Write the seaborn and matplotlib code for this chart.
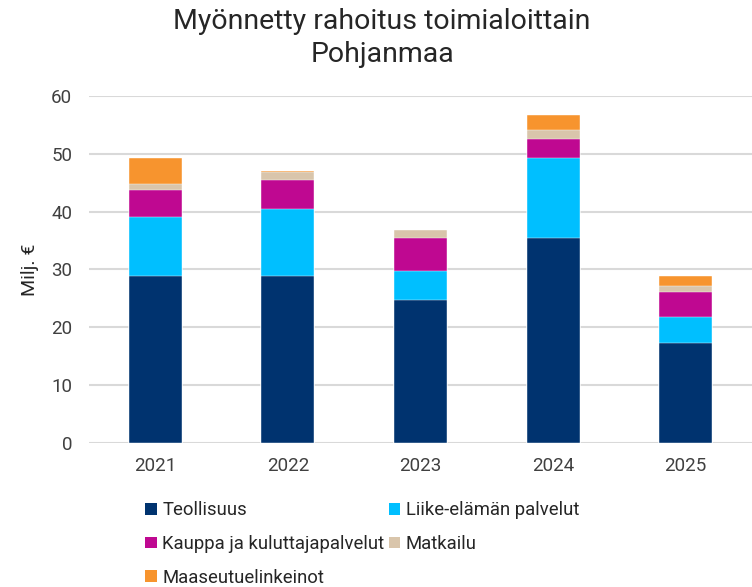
import numpy as np
import pandas as pd
import matplotlib
matplotlib.use("Agg")
import matplotlib.pyplot as plt
from matplotlib.patches import Patch
import seaborn as sns

# Data (milj. euroa)
years = ["2021", "2022", "2023", "2024", "2025"]
teollisuus = [28.9, 28.9, 24.7, 35.4, 17.3]
liike = [10.2, 11.55, 5.0, 13.8, 4.55]
kauppa = [4.65, 5.0, 5.75, 3.4, 4.3]
matkailu = [1.05, 1.35, 1.45, 1.4, 1.05]
maaseutu = [4.45, 0.2, 0.0, 2.75, 1.75]

series_names = ["Teollisuus", "Liike-elämän palvelut", "Kauppa ja kuluttajapalvelut",
                "Matkailu", "Maaseutuelinkeinot"]
colors = ["#00336F", "#00BFFF", "#BF0891", "#D9C5AB", "#F7942E"]

df = pd.DataFrame({"Vuosi": years, series_names[0]: teollisuus, series_names[1]: liike,
                   series_names[2]: kauppa, series_names[3]: matkailu,
                   series_names[4]: maaseutu})
cum = df[series_names].cumsum(axis=1)

sns.set_style("white")
plt.rcParams["font.family"] = ["Roboto", "DejaVu Sans"]

fig = plt.figure(figsize=(7.52, 5.87), dpi=100)
ax = fig.add_axes([0.1184, 0.2448, 0.8816, 0.5922])

# stacked bars: draw cumulative totals from the top layer down
for name, col in reversed(list(zip(series_names, colors))):
    sns.barplot(x=df["Vuosi"], y=cum[name], color=col, width=0.4, ax=ax,
                saturation=1, edgecolor="white", linewidth=0.3)

ax.set_ylim(0, 60)
ax.set_xlim(-0.5, 4.5)
ax.set_yticks(range(0, 61, 10))
ax.yaxis.grid(True, color="#d9d9d9", linewidth=1.5)
ax.set_axisbelow(True)
for s in ax.spines.values():
    s.set_visible(False)
ax.tick_params(axis="both", length=0, labelsize=13.5, colors="#404040")
ax.tick_params(axis="y", pad=12)
ax.tick_params(axis="x", pad=10)
ax.set_xlabel("")
ax.set_ylabel("Milj. €", fontsize=14, color="#262626", labelpad=9)

fig.text(0.508, 0.963, "Myönnetty rahoitus toimialoittain", ha="center", va="center",
         fontsize=20.5, color="#262626")
fig.text(0.508, 0.908, "Pohjanmaa", ha="center", va="center", fontsize=20.5, color="#262626")

handles = [Patch(facecolor=c, edgecolor="none", label=n) for n, c in zip(series_names, colors)]
order = [0, 2, 4, 1, 3]
fig.legend([handles[i] for i in order], [series_names[i] for i in order],
           loc="upper left", bbox_to_anchor=(0.193, 0.146), ncol=2, frameon=False,
           fontsize=13.3, handlelength=0.62, handleheight=0.62, handletextpad=0.3,
           columnspacing=0.25, labelspacing=0.85, borderaxespad=0, borderpad=0,
           labelcolor="#262626")

fig.savefig("out.png", dpi=100)
